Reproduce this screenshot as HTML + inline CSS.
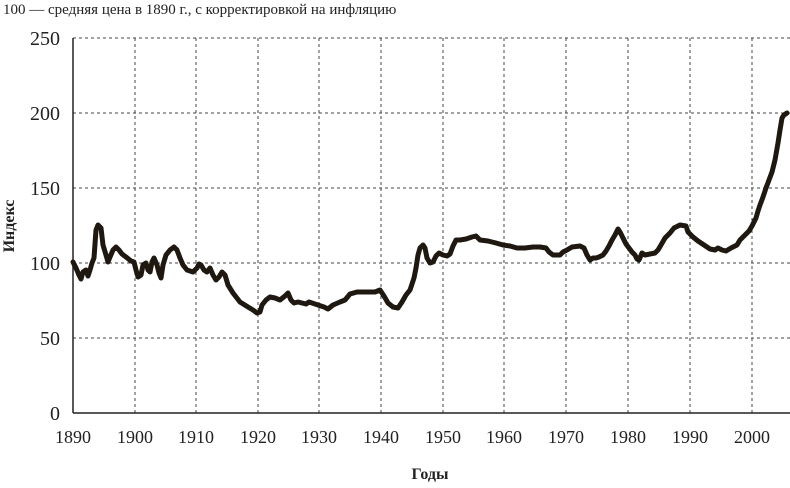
<!DOCTYPE html>
<html><head><meta charset="utf-8"><style>body{margin:0;background:#fff}</style></head><body>
<svg width="790" height="483" xmlns="http://www.w3.org/2000/svg" font-family="Liberation Serif, serif">
<rect width="790" height="483" fill="#fff"/>
<text x="3" y="14" font-size="15" fill="#222">100 — средняя цена в 1890 г., с корректировкой на инфляцию</text>
<g stroke="#444" stroke-width="1" stroke-dasharray="3,3">
<line x1="73" y1="38" x2="790" y2="38"/><line x1="73" y1="113" x2="790" y2="113"/><line x1="73" y1="188" x2="790" y2="188"/><line x1="73" y1="263" x2="790" y2="263"/><line x1="73" y1="338" x2="790" y2="338"/>
<line x1="135" y1="38" x2="135" y2="413"/><line x1="196" y1="38" x2="196" y2="413"/><line x1="258" y1="38" x2="258" y2="413"/><line x1="319" y1="38" x2="319" y2="413"/><line x1="381" y1="38" x2="381" y2="413"/><line x1="443" y1="38" x2="443" y2="413"/><line x1="504" y1="38" x2="504" y2="413"/><line x1="566" y1="38" x2="566" y2="413"/><line x1="628" y1="38" x2="628" y2="413"/><line x1="690" y1="38" x2="690" y2="413"/><line x1="752" y1="38" x2="752" y2="413"/>
</g>
<line x1="73" y1="38" x2="73" y2="413" stroke="#222" stroke-width="1.5"/>
<line x1="73" y1="413" x2="790" y2="413" stroke="#222" stroke-width="1.5"/>
<g font-size="20" fill="#222" text-anchor="end">
<text x="60" y="45">250</text><text x="60" y="120">200</text><text x="60" y="195">150</text><text x="60" y="270">100</text><text x="60" y="345">50</text><text x="60" y="420">0</text>
</g>
<g font-size="18" fill="#222" text-anchor="middle">
<text x="73" y="443">1890</text><text x="135" y="443">1900</text><text x="196" y="443">1910</text><text x="258" y="443">1920</text><text x="319" y="443">1930</text><text x="381" y="443">1940</text><text x="443" y="443">1950</text><text x="504" y="443">1960</text><text x="566" y="443">1970</text><text x="628" y="443">1980</text><text x="690" y="443">1990</text><text x="752" y="443">2000</text>
</g>
<text x="430" y="479" font-size="16" font-weight="bold" text-anchor="middle" fill="#222">Годы</text>
<text transform="translate(14,226) rotate(-90)" font-size="16" font-weight="bold" text-anchor="middle" fill="#222">Индекс</text>
<polyline fill="none" stroke="#1e1810" stroke-width="5" stroke-linejoin="round" stroke-linecap="round" points="73,262 76,268 79,275 81,279 83,272 86,270 88,276 90,270 92,263 94,258 96,230 98,225 101,228 103,245 106,255 108,262 110,257 113,250 116,247 119,250 122,254 126,257 131,261 134,262 136,270 138,277 141,275 143,265 146,263 148,270 150,272 152,262 154,258 157,265 159,273 161,278 163,265 166,255 170,250 174,247 177,250 180,258 183,265 187,270 193,272 197,268 199,264 201,265 204,270 207,272 210,268 213,275 216,280 219,277 222,272 225,275 228,285 233,293 240,302 248,307 253,310 257,313 260,312 262,305 266,300 270,297 275,298 280,300 285,296 288,293 291,300 294,303 298,302 302,303 306,304 309,302 312,303 318,305 324,307 328,309 333,305 340,302 345,300 350,294 357,292 364,292 370,292 375,292 380,290 384,296 388,303 393,307 398,308 402,302 406,295 410,290 412,284 414,278 416,268 418,255 420,248 423,245 425,248 427,258 430,263 433,262 436,256 439,253 443,255 447,256 450,254 453,246 456,240 460,240 466,239 472,237 476,236 480,240 488,241 496,243 503,245 510,246 517,248 525,248 533,247 540,247 546,248 549,252 553,255 560,255 563,252 567,250 572,247 580,246 584,248 587,255 590,260 593,258 596,258 599,257 603,255 606,251 609,246 612,240 615,235 618,229 620,232 623,238 626,244 629,248 632,252 635,255 637,259 639,260 642,253 645,255 650,254 655,253 658,250 661,245 665,238 670,233 674,228 680,225 686,226 688,232 693,237 698,241 704,245 710,249 715,250 718,248 722,250 726,251 731,248 737,245 740,240 744,236 749,231 752,226 754,222 756,218 758,211 760,205 763,197 766,188 769,180 772,172 775,160 778,143 780,130 782,118 784,115 787,113"/>
</svg>
</body></html>
